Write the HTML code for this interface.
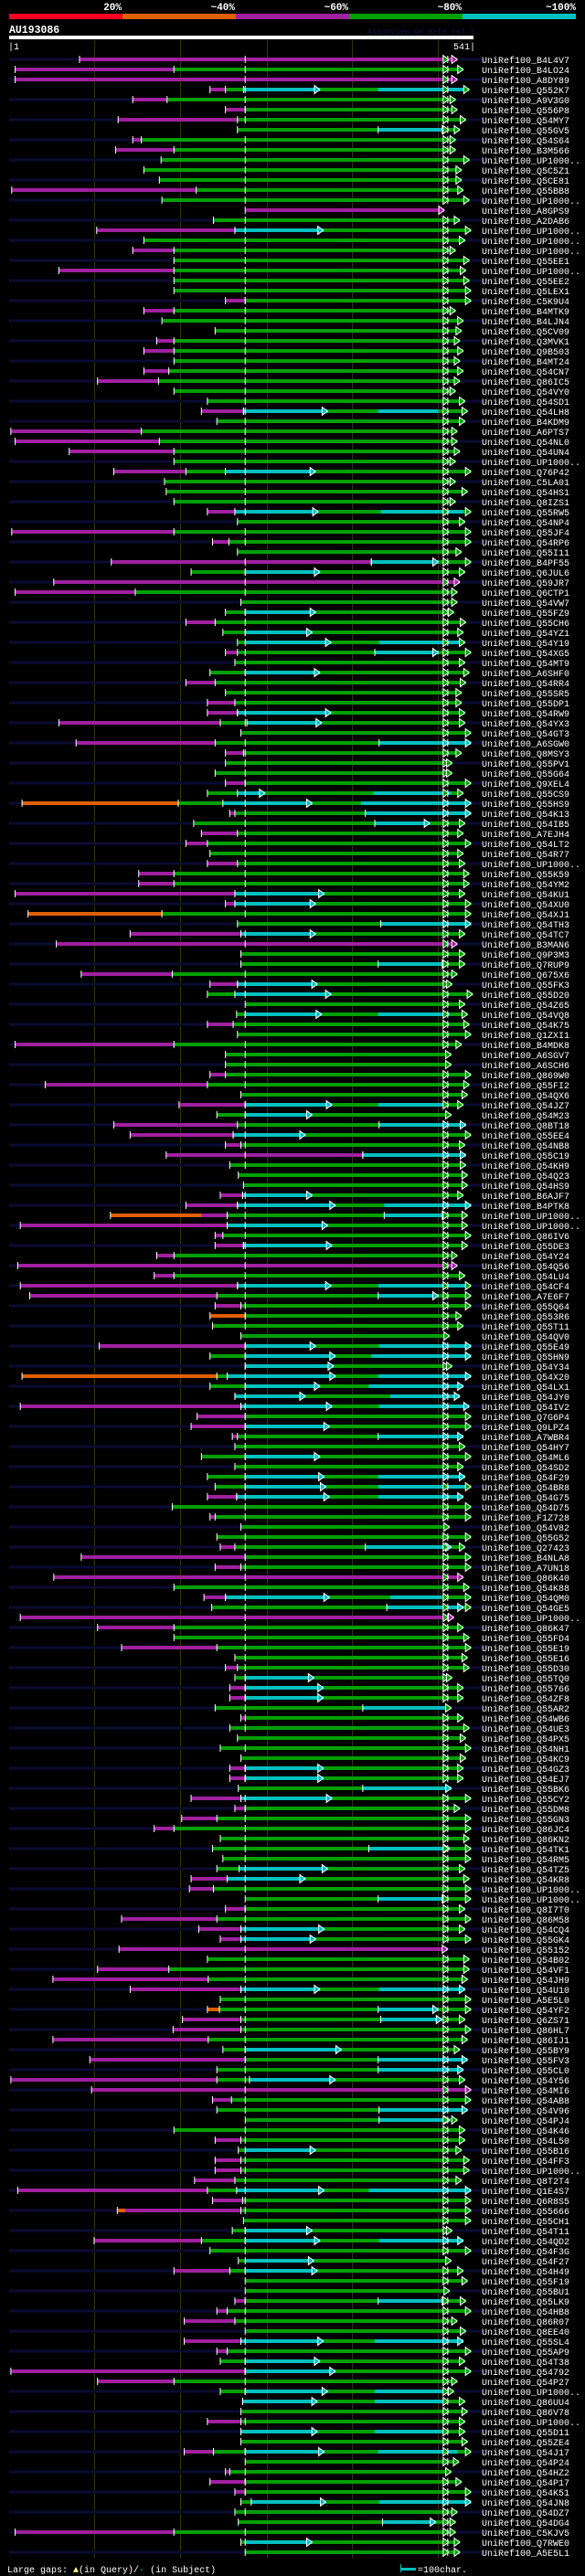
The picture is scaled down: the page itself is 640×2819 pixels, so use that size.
<!DOCTYPE html>
<html><head><meta charset="utf-8"><title>AlignView AU193086</title>
<style>html,body{margin:0;padding:0;background:#000;}svg{display:block;}</style></head>
<body>
<svg id="chart" width="640" height="2819" viewBox="0 0 640 2819" xmlns="http://www.w3.org/2000/svg" font-family="Liberation Mono, monospace">
<rect x="0" y="0" width="640" height="2819" fill="#000"/>
<g font-weight="bold" font-size="11" fill="#fff" text-anchor="end">
<text x="133" y="11">20%</text>
<text x="257" y="11">~40%</text>
<text x="381" y="11">~60%</text>
<text x="505" y="11">~80%</text>
<text x="630" y="11">~100%</text>
</g>
<g>
<rect x="10" y="15" width="124" height="6" fill="#ff0020"/>
<rect x="134" y="15" width="124" height="6" fill="#e06000"/>
<rect x="258" y="15" width="124" height="6" fill="#a020a0"/>
<rect x="382" y="15" width="124" height="6" fill="#00a000"/>
<rect x="506" y="15" width="124" height="6" fill="#00c0c0"/>
</g>
<text x="10" y="36" fill="#fff" font-weight="bold" font-size="11.5">AU193086</text>
<text x="402" y="37" fill="#12124a" font-size="8.5">AlignView.pm Beta rel.7</text>
<rect x="10" y="39" width="508" height="4" fill="#fff"/>
<text x="9" y="54" fill="#fff" font-size="10">|1</text>
<text x="520" y="54" fill="#fff" font-size="10" text-anchor="end">541|</text>
<g id="grid"></g>
<g id="rows"></g>
<g font-size="10" fill="#fff">
<text x="8" y="2815">Large gaps: <tspan fill="#ffff80">▲</tspan>(in Query)/<tspan fill="#00c0c0">-</tspan> (in Subject)</text>
<rect x="439" y="2810" width="16" height="3" fill="#00c0c0"/>
<rect x="438" y="2806" width="1" height="9" fill="#00c0c0"/>
<text x="457" y="2815">=100char.</text>
</g>
</svg>
<script>
const names=["B4L4V7","B4LO24","A8DY89","Q552K7","A9V3G0","Q556P8","Q54MY7","Q55GV5","Q54S64","B3M566",
"UP1000..","Q5C5Z1","Q5CE81","Q55BB8","UP1000..","A8GPS9","A2DAB6","UP1000..","UP1000..","UP1000..",
"Q55EE1","UP1000..","Q55EE2","Q5LEX1","C5K9U4","B4MTK9","B4LJN4","Q5CV09","Q3MVK1","Q9B503",
"B4MT24","Q54CN7","Q86IC5","Q54VY0","Q54SD1","Q54LH8","B4KDM9","A6PTS7","Q54NL0","Q54UN4",
"UP1000..","Q76P42","C5LA01","Q54HS1","Q8IZS1","Q55RW5","Q54NP4","Q55JF4","Q54RP6","Q55I11",
"B4PF55","Q6JUL6","Q59JR7","Q6CTP1","Q54VW7","Q55FZ9","Q55CH6","Q54YZ1","Q54Y19","Q54XG5",
"Q54MT9","A6SHF0","Q54RR4","Q55SR5","Q55DP1","Q54RW9","Q54YX3","Q54GT3","A6SGW0","Q8MSY3",
"Q55PV1","Q55G64","Q9XEL4","Q55CS9","Q55HS9","Q54K13","Q54IB5","A7EJH4","Q54LT2","Q54R77",
"UP1000..","Q55K59","Q54YM2","Q54KU1","Q54XU0","Q54XJ1","Q54TH3","Q54TC7","B3MAN6","Q9P3M3",
"Q7RUP9","Q675X6","Q55FK3","Q55D20","Q54Z65","Q54VQ8","Q54K75","Q1ZXI1","B4MDK8","A6SGV7",
"A6SCH6","Q869W0","Q55FI2","Q54QX6",
"Q54JZ7","Q54M23","Q8BT18","Q55EE4","Q54NB8","Q55C19","Q54KH9","Q54Q23","Q54HS9","B6AJF7",
"B4PTK8","UP1000..","UP1000..","Q86IV6","Q55DE3","Q54Y24","Q54Q56","Q54LU4","Q54CF4","A7E6F7",
"Q55Q64","Q553R6","Q55T11","Q54QV0","Q55E49","Q55HN9","Q54Y34","Q54X20","Q54LX1","Q54JY0",
"Q54IV2","Q7G6P4","Q9LPZ4","A7WBR4","Q54HY7","Q54ML6","Q54SD2","Q54F29","Q54BR8","Q54G75",
"Q54D75","F1Z728","Q54V82","Q55G52","Q27423","B4NLA8","A7UN18","Q86K40","Q54K88","Q54QM0",
"Q54GE5","UP1000..","Q86K47","Q55FD4","Q55E19","Q55E16","Q55D30","Q55TQ0","Q55766","Q54ZF8",
"Q55AR2","Q54WB6","Q54UE3","Q54PX5","Q54NH1","Q54KC9","Q54GZ3","Q54EJ7","Q55BK6","Q55CY2",
"Q55DM8","Q55GN3","Q86JC4","Q86KN2","Q54TK1","Q54RM5",
"Q54TZ5","Q54KR8","UP1000..","UP1000..","Q8I7T0","Q86M58","Q54CQ4","Q55GK4","Q55152","Q54B02",
"Q54VF1","Q54JH9","Q54U10","A5E5L0","Q54YF2","Q6ZS71","Q86HL7","Q86IJ1","Q55BY9","Q55FV3",
"Q55CL0","Q54Y56","Q54MI6","Q54AB8","Q54V96","Q54PJ4","Q54K46","Q54L50","Q55B16","Q54FF3",
"UP1000..","Q8T2T4","Q1E4S7","Q6R8S5","Q55666","Q55CH1","Q54T11","Q54QD2","Q54F3G","Q54F27",
"Q54H49","Q55F19","Q55BU1","Q55LK9","Q54HB8","Q86R07","Q8EE40","Q55SL4","Q55AP9","Q54T38",
"Q54792","Q54P27","UP1000..","Q86UU4","Q86V78","UP1000..","Q55D11","Q55ZE4","Q54J17","Q54P24",
"Q54HZ2","Q54P17","Q54K51","Q54JN8","Q54DZ7","Q54DG4","C5KJV5","Q7RWE0","A5E5L1"];
const starts=[82,7,7,234,144,252,127,266,144,124,
177,157,175,3,178,275,238,102,157,144,
192,58,192,192,252,157,178,240,172,157,
192,157,103,192,231,224,242,2,7,70,
192,122,181,183,192,231,266,3,237,266,
119,212,52,7,270,252,206,249,266,252,
263,234,206,252,231,231,58,270,78,252,
252,240,252,231,15,257,215,224,206,234,
231,151,151,7,252,22,266,141,55,270,
270,84,234,231,275,265,231,266,7,252,
252,234,42,270,198,242,122,141,252,183,
257,267,273,246,206,118,13,240,240,172,
10,169,13,24,240,234,237,270,105,234,
275,15,234,263,13,219,212,260,263,224,
263,231,240,231,190,234,270,242,246,84,
240,52,192,227,236,13,103,192,131,263,
252,263,257,257,240,270,257,266,246,270,
257,257,267,212,263,201,169,246,237,249,
242,212,210,275,252,131,221,246,128,231,
103,51,141,246,231,202,191,51,249,94,
242,2,96,237,242,275,192,240,267,240,
240,216,10,237,126,273,260,99,234,267,
192,275,275,263,242,204,275,204,242,246,
2,103,246,272,270,231,270,270,204,275,
252,234,263,270,263,267,7,270,275];
const ends=[522,529,522,536,520,522,532,525,520,520,
536,527,527,529,536,507,525,538,531,520,
536,532,536,538,538,520,529,527,525,529,
525,529,525,520,531,534,531,522,522,525,
520,538,520,534,520,538,531,538,538,527,
538,531,525,522,522,518,532,529,531,538,
531,536,532,527,527,531,531,538,538,527,
516,516,538,529,538,538,531,529,538,529,
531,536,536,531,538,538,538,531,522,531,
531,522,516,540,531,534,536,538,527,515,
515,538,536,534,529,515,532,538,531,532,
532,534,534,529,538,534,534,538,534,522,
522,531,538,538,538,527,529,513,538,538,
516,538,529,525,536,538,538,529,531,538,
529,531,538,529,538,538,513,538,531,538,
538,529,536,538,538,518,529,536,538,534,
536,516,529,529,515,529,536,532,538,532,
529,529,515,538,525,538,538,536,538,538,
531,536,538,538,531,538,531,538,511,536,
536,534,531,538,538,531,538,534,525,534,
529,531,538,538,534,522,531,531,527,536,
536,527,538,538,538,538,516,529,538,515,
529,534,513,532,538,522,532,529,538,531,
538,522,518,531,534,531,531,534,538,524,
515,527,538,538,522,520,520,525,525];
const purpleTo=[522,192,522,252,184,275,266,0,154,192,
0,0,0,218,0,507,0,263,0,192,
0,192,0,0,275,192,0,0,192,192,
0,186,174,0,0,273,0,154,175,192,
0,206,0,0,0,263,0,192,256,0,
422,0,525,147,0,0,240,0,0,266,
0,0,240,0,263,266,246,0,240,273,
0,0,275,0,197,263,0,266,231,0,
266,192,192,263,263,178,0,270,522,0,
0,190,266,0,0,0,261,0,192,0,
0,252,231,0,275,0,266,261,270,412,
0,0,0,272,266,254,254,249,273,192,
522,192,266,242,270,275,0,0,275,0,
0,242,0,0,270,275,275,266,0,0,
0,0,0,265,0,240,0,0,263,275,
270,529,0,252,0,518,192,0,242,0,
266,0,275,275,0,275,0,0,0,0,
275,275,0,270,275,242,192,0,0,0,
0,254,238,0,275,242,270,270,511,0,
186,232,270,0,245,270,270,232,0,275,
0,242,538,259,0,0,0,270,0,270,
270,263,231,272,270,0,0,224,0,0,
257,0,0,275,254,263,0,270,254,0,
275,192,0,0,0,270,0,0,238,0,
257,275,275,0,0,0,192,0,0];
const orangeRows=[74,85,115,125,131,194,214];
const orangeTo=[197,178,224,275,242,245,135];
const cyanFrom=[0,0,0,273,0,0,0,430,0,0,
0,0,0,0,0,0,0,263,0,0,
0,0,0,0,0,0,0,0,0,0,
0,0,0,0,0,273,0,0,0,0,
0,252,0,0,0,263,0,0,0,0,
422,275,0,0,0,275,0,275,275,426,
0,275,0,0,0,266,277,0,431,0,
0,0,0,266,249,415,426,0,0,0,
0,0,0,263,263,0,433,270,0,0,
430,0,266,263,0,275,0,0,0,0,
0,0,0,0,275,275,431,261,0,412,
0,0,0,272,266,437,254,0,273,0,
0,0,266,430,0,0,0,0,275,275,
275,254,275,263,270,0,275,430,0,275,
0,275,275,265,0,0,0,0,415,0,
0,0,0,252,440,0,0,0,0,0,
0,275,275,275,412,0,0,0,0,0,
275,275,412,270,0,0,0,0,419,0,
268,254,0,430,0,0,270,270,0,0,
0,0,270,0,430,433,0,0,275,430,
430,280,0,0,431,431,0,0,275,0,
0,0,265,0,0,0,275,275,0,275,
275,0,0,430,0,0,0,270,0,275,
275,0,275,272,0,0,270,0,275,0,
0,0,0,282,0,435,0,275,0];
const cyanTo=[0,0,0,362,0,0,0,511,0,0,
0,0,0,0,0,0,0,366,0,0,
0,0,0,0,0,0,0,0,0,0,
0,0,0,0,0,371,0,0,0,0,
0,357,0,0,0,360,0,0,0,0,
500,362,0,0,0,357,0,353,375,500,
0,362,0,0,0,375,364,0,538,0,
0,0,0,298,353,538,490,0,0,0,
0,0,0,367,357,0,538,357,0,0,
511,0,359,375,0,364,0,0,0,0,
0,0,0,0,376,353,532,345,0,532,
0,0,0,353,380,511,371,0,376,0,
0,0,375,500,0,0,0,0,357,380,
378,380,362,345,376,0,373,529,0,362,
0,367,369,373,0,0,0,0,515,0,
0,0,0,373,529,0,0,0,0,0,
0,355,366,366,511,0,0,0,0,0,
366,366,515,376,0,0,0,0,513,0,
371,345,0,511,0,0,367,357,0,0,
0,0,362,0,500,504,0,0,387,534,
529,380,0,0,534,513,0,0,357,0,
0,0,367,0,0,0,353,362,0,355,
359,0,0,511,0,0,0,366,0,362,
380,0,371,359,0,0,359,0,367,0,
0,0,0,369,0,497,0,353,0];
const cyan2Rows=[3,35,45,58,73,74,95,104,114,122,128,129,131,132,133,134,141,142,143,153,192,212,217,227,232,233,236,238,243];
const cyan2From=[430,430,433,431,424,410,430,430,437,430,431,422,430,419,444,431,430,430,430,444,431,419,431,426,426,426,426,430,431];
const cyan2To=[532,500,529,529,515,538,513,511,538,532,538,538,538,529,525,536,531,536,529,504,531,538,529,529,511,511,511,522,538];
const gridPositions=[99,199,300,399,499];

const NS="http://www.w3.org/2000/svg";
const COL={P:"#a020a0",O:"#e06000",G:"#00a000",C:"#00c0c0"};
function xScale(pos){return 10+pos*(508/541);}
function yRow(i){return 65+i*11;}
function mk(tag,attrs,parent){const e=document.createElementNS(NS,tag);for(const k in attrs)e.setAttribute(k,attrs[k]);parent.appendChild(e);return e;}

const grid=document.getElementById('grid');
gridPositions.forEach(function(p){
  const l=mk('rect',{x:Math.round(xScale(p)),y:44,width:1,height:2756,fill:"#34340c"},grid);
  
  
});

const rowsG=document.getElementById('rows');
function tick(g,pos,y){
  const t=mk('rect',{x:xScale(pos)-0.5,y:y-4,width:1,height:8,fill:"#fff"},g);
  
  
}
function arrow(g,pos,y,color){
  const x=xScale(pos);
  const a=mk('polygon',{points:(x-6)+","+(y-4.5)+" "+x+","+y+" "+(x-6)+","+(y+4.5),fill:color,stroke:"#fff","stroke-width":"1"},g);
  
  
}
function seg(g,a,b,y,color,name){
  if(b<=a)return;
  const r=mk('rect',{x:xScale(a),y:y-2,width:xScale(b)-xScale(a),height:4,fill:color},g);
  
  
}
for(let i=0;i<starts.length;i++){
  const y=yRow(i);
  const g=mk('g',{},rowsG);
  
  
  if(i%2===0){
    const n=mk('rect',{x:10,y:y-1.5,width:517,height:3,fill:"#0b0b34"},g);
    
    
  }
  const s=starts[i],e=ends[i];
  const oi=orangeRows.indexOf(i);
  const oEnd=oi>=0?orangeTo[oi]:0;
  const pEnd=Math.max(purpleTo[i],oEnd);
  seg(g,s,e,y,COL.G,'green-segment');
  if(pEnd>0)seg(g,s,Math.min(pEnd,e),y,COL.P,'purple-segment');
  if(oEnd>0)seg(g,s,Math.min(oEnd,e),y,COL.O,'orange-segment');
  if(cyanTo[i]>0)seg(g,cyanFrom[i],cyanTo[i],y,COL.C,'cyan-segment');
  const ci=cyan2Rows.indexOf(i);
  if(ci>=0)seg(g,cyan2From[ci],cyan2To[ci],y,COL.C,'cyan-segment');
  tick(g,s,y);
  if(pEnd>0&&pEnd<e)tick(g,pEnd,y);
  if(s<266&&e>290)tick(g,275,y);
  if(s<500&&e>515)tick(g,511,y);
  if(cyanTo[i]>0){tick(g,cyanFrom[i],y);if(cyanTo[i]<e-6)arrow(g,cyanTo[i],y,COL.C);}
  let endColor=COL.G;
  if(pEnd>=e)endColor=(oEnd>=e)?COL.O:COL.P;
  if(cyanTo[i]>=e-1||(ci>=0&&cyan2To[ci]>=e-1))endColor=COL.C;
  if(e>515&&s<500)arrow(g,512,y,endColor===COL.C?COL.C:COL.G);
  arrow(g,e,y,endColor);
  const t=mk('text',{x:527,y:y+4,fill:"#fff","font-size":"10"},g);
  
  
  t.textContent="UniRef100_"+names[i];
}
</script>
</body></html>
